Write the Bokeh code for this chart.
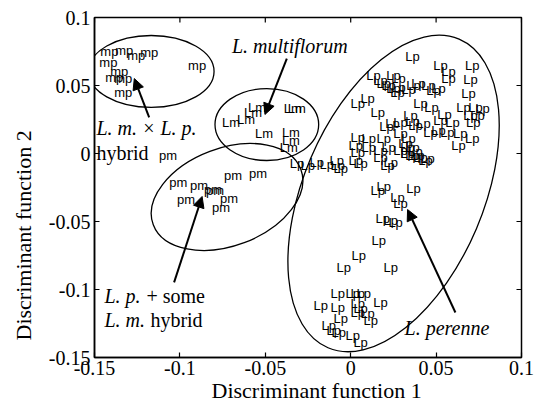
import math
from bokeh.plotting import figure
from bokeh.models import ColumnDataSource, FixedTicker, Label, Arrow, NormalHead, Range1d, Title
from bokeh.core.properties import value
from bokeh.embed import file_html
from bokeh.resources import INLINE

# ---- data (discriminant scores) ----
mp_x = [-0.1413, -0.1326, -0.1256, -0.1180, -0.1419, -0.1355, -0.1384, -0.1332, -0.1332, -0.0899]
mp_y = [0.0750, 0.0757, 0.0720, 0.0742, 0.0669, 0.0603, 0.0559, 0.0551, 0.0448, 0.0647]

lm_x = [-0.0701, -0.0613, -0.0572, -0.0549, -0.0339, -0.0315, -0.0508, -0.0350, -0.0350, -0.0362]
lm_y = [0.0228, 0.0250, 0.0301, 0.0338, 0.0331, 0.0331, 0.0147, 0.0154, 0.0096, 0.0044]

pm_x = [-0.1069, -0.1010, -0.0888, -0.0806, -0.0794, -0.0689, -0.0543, -0.0964, -0.0712, -0.0759]
pm_y = [-0.0015, -0.0213, -0.0235, -0.0265, -0.0272, -0.0162, -0.0147, -0.0338, -0.0331, -0.0397]

lp_x = [0.0362, 0.0526, 0.0712, 0.0572, 0.0572, 0.0701, 0.0134, 0.0251, 0.0280, 0.0175,
        0.0193, 0.0222, 0.0280, 0.0251, 0.0274, 0.0368, 0.0397, 0.0456, 0.0339, 0.0485,
        0.0514, 0.0689, 0.0041, 0.0099, 0.0158, 0.0245, 0.0210, 0.0292, 0.0350, 0.0380,
        0.0409, 0.0473, 0.0549, 0.0660, 0.0730, 0.0771, 0.0701, 0.0742, 0.0718, 0.0596,
        0.0526, 0.0514, 0.0566, 0.0642, 0.0712, 0.0631, 0.0362, 0.0426, 0.0467, 0.0041,
        0.0105, 0.0193, 0.0292, 0.0339, 0.0321, 0.0029, 0.0105, 0.0175, 0.0222, 0.0292,
        0.0333, 0.0362, 0.0380, 0.0362, 0.0409, 0.0438, 0.0041, 0.0029, 0.0058, 0.0175,
        0.0216, 0.0234, 0.0333, 0.0391, 0.0450, -0.0076, -0.0058, -0.0315, -0.0251, -0.0199,
        -0.0140, -0.0082, 0.0193, 0.0158, 0.0368, 0.0274, 0.0292, 0.0187, 0.0234, 0.0263,
        0.0164, 0.0047, 0.0234, -0.0041, -0.0076, 0.0012, 0.0041, 0.0076, 0.0175, -0.0076,
        0.0041, 0.0058, 0.0041, 0.0099, 0.0117, -0.0058, -0.0099, -0.0070, 0.0012, 0.0058,
        -0.0175, -0.0128]
lp_y = [0.0713, 0.0647, 0.0647, 0.0603, 0.0551, 0.0544, 0.0573, 0.0573, 0.0551, 0.0537,
        0.0515, 0.0500, 0.0485, 0.0478, 0.0448, 0.0500, 0.0515, 0.0500, 0.0470, 0.0463,
        0.0478, 0.0441, 0.0368, 0.0404, 0.0301, 0.0221, 0.0198, 0.0228, 0.0279, 0.0206,
        0.0368, 0.0338, 0.0287, 0.0338, 0.0338, 0.0331, 0.0279, 0.0279, 0.0228, 0.0228,
        0.0243, 0.0169, 0.0154, 0.0147, 0.0110, 0.0059, 0.0235, 0.0221, 0.0154, 0.0118,
        0.0110, 0.0110, 0.0147, 0.0110, 0.0074, 0.0059, 0.0044, 0.0022, 0.0044, 0.0022,
        0.0044, 0.0044, 0.0015, -0.0015, -0.0029, -0.0051, 0.0007, -0.0051, -0.0074, -0.0029,
        -0.0088, -0.0066, 0.0000, -0.0015, -0.0037, -0.0088, -0.0110, -0.0074, -0.0088, -0.0066,
        -0.0081, -0.0051, -0.0243, -0.0272, -0.0257, -0.0323, -0.0368, -0.0478, -0.0492, -0.0507,
        -0.0639, -0.0750, -0.0838, -0.0838, -0.1029, -0.1029, -0.1029, -0.1029, -0.1095, -0.1132,
        -0.1103, -0.1139, -0.1169, -0.1176, -0.1227, -0.1213, -0.1301, -0.1316, -0.1338, -0.1389,
        -0.1117, -0.1264]

ticks = [-0.15, -0.1, -0.05, 0, 0.05, 0.1]
tick_labels = ["-0.15", "-0.1", "-0.05", "0", "0.05", "0.1"]

x_title = "Discriminant function 1"
y_title = "Discriminant function 2"

# group ellipses: centre x, centre y, width, height (data units), angle (rad)
ell_x = [-0.1168, -0.0491, -0.0724, 0.0251]
ell_y = [0.0603, 0.0213, -0.0320, -0.0294]
ell_w = [0.0736, 0.0607, 0.0923, 0.1963]
ell_h = [0.0529, 0.0529, 0.0718, 0.1324]
ell_a = [0.0, 0.0, 0.36, 1.169]

# arrows: start -> end
arr_x0 = [-0.1180, -0.0374, -0.1034, 0.0613]
arr_y0 = [0.0265, 0.0698, -0.0948, -0.1169]
arr_x1 = [-0.1267, -0.0502, -0.0870, 0.0333]
arr_y1 = [0.0551, 0.0287, -0.0316, -0.0412]

SERIF = "Liberation Serif"
SANS = "Liberation Sans"

XMIN, XMAX = ticks[0], ticks[-1]
YMIN, YMAX = ticks[0], ticks[-1]

p = figure(width=537, height=408,
           x_range=Range1d(XMIN, XMAX), y_range=Range1d(YMIN, YMAX),
           output_backend="svg", toolbar_location=None,
           min_border_left=93, min_border_right=16, min_border_top=17, min_border_bottom=51)
p.xgrid.visible = False
p.ygrid.visible = False
p.outline_line_color = "black"
p.outline_line_width = 1.5
p.background_fill_color = "white"
p.border_fill_color = "white"

for ax in (p.xaxis[0], p.yaxis[0]):
    ax.ticker = FixedTicker(ticks=ticks)
    ax.major_label_overrides = {t: l for t, l in zip(ticks, tick_labels)}
    ax.major_tick_in = 5
    ax.major_tick_out = 0
    ax.minor_tick_line_color = None
    ax.axis_line_color = "black"
    ax.axis_line_width = 1.5
    ax.major_tick_line_color = "black"
    ax.major_tick_line_width = 1.2
    ax.major_label_text_font = SERIF
    ax.major_label_text_color = "black"
    ax.major_label_text_font_size = "20px"
    ax.major_label_standoff = 4
p.xaxis[0].major_label_standoff = 3

# axis titles (as side-panel titles so they can sit where the reference has them)
p.add_layout(Title(text=x_title, align="left", offset=117, standoff=0, vertical_align="top",
                   text_font=SERIF, text_font_size="22px", text_font_style="normal",
                   text_color="black"), "below")
p.add_layout(Title(text=y_title, align="left", offset=17, standoff=18, vertical_align="middle",
                   text_font=SERIF, text_font_size="22px", text_font_style="normal",
                   text_color="black"), "left")

# mirrored inward ticks on the top and right edges (clipped to the frame)
n = len(ticks)
p.dash(x=[XMAX] * n, y=ticks, size=10, angle=0, line_color="black", line_width=1.2)
p.dash(x=ticks, y=[YMAX] * n, size=10, angle=math.pi / 2, line_color="black", line_width=1.2)

# ellipses
p.ellipse(x=ell_x, y=ell_y, width=ell_w, height=ell_h, angle=ell_a,
          fill_color=None, line_color="black", line_width=1.3)

# point labels
for xs, ys, name in [(mp_x, mp_y, "mp"), (lm_x, lm_y, "Lm"), (pm_x, pm_y, "pm"), (lp_x, lp_y, "Lp")]:
    src = ColumnDataSource(dict(x=xs, y=ys, t=[name] * len(xs)))
    p.text(x="x", y="y", text="t", source=src, text_font=value(SANS), text_font_size="13px",
           text_align="center", text_baseline="middle", text_color="#000000")

# arrows
for x0, y0, x1, y1 in zip(arr_x0, arr_y0, arr_x1, arr_y1):
    p.add_layout(Arrow(end=NormalHead(size=11, fill_color="black", line_color="black", line_width=1),
                       x_start=x0, y_start=y0, x_end=x1, y_end=y1,
                       line_color="black", line_width=2))


def lab(x, y, text, italic=True, xoff=0):
    p.add_layout(Label(x=x, y=y, x_offset=xoff, text=text, text_font=SERIF,
                       text_font_style="italic" if italic else "normal",
                       text_font_size="20px", text_align="left", text_baseline="middle",
                       text_color="black"))


lab(-0.0695, 0.0794, "L. multiflorum")
lab(-0.1489, 0.0191, "L. m. \u00d7 L. p.")
lab(-0.1489, 0.0007, "hybrid", italic=False)
lab(-0.1442, -0.1051, "L. p.")
lab(-0.1442, -0.1051, "+ some", italic=False, xoff=42)
lab(-0.1442, -0.1227, "L. m.")
lab(-0.1442, -0.1227, "hybrid", italic=False, xoff=46)
lab(0.0315, -0.1286, "L. perenne")

open("out.html", "w").write(file_html(p, INLINE))
